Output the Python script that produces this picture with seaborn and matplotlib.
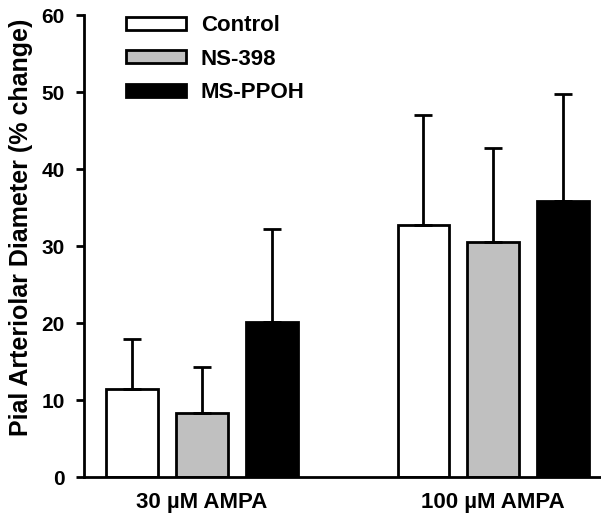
import matplotlib
matplotlib.use("Agg")
import matplotlib.pyplot as plt
import seaborn as sns
import pandas as pd

doses = ["30 \u00b5M AMPA", "100 \u00b5M AMPA"]
treatments = ["Control", "NS-398", "MS-PPOH"]
control_mean = [11.4, 32.7]
ns398_mean = [8.3, 30.6]
msppoh_mean = [20.2, 35.8]
control_sem = [6.6, 14.3]
ns398_sem = [6.0, 12.2]
msppoh_sem = [12.0, 14.0]

colors = ["#ffffff", "#c0c0c0", "#000000"]

rows = []
for t, means, sems in zip(treatments, [control_mean, ns398_mean, msppoh_mean],
                          [control_sem, ns398_sem, msppoh_sem]):
    for d, m, s in zip(doses, means, sems):
        rows.append({"dose": d, "treatment": t, "value": m, "sem": s})
df = pd.DataFrame(rows)

sns.set_style("ticks", {"axes.edgecolor": "black", "text.color": "black",
                        "axes.labelcolor": "black", "xtick.color": "black",
                        "ytick.color": "black"})
plt.rcParams["font.family"] = ["Liberation Sans", "DejaVu Sans"]
plt.rcParams["font.weight"] = "bold"

fig = plt.figure(figsize=(6.01, 5.22), dpi=100)
ax = fig.add_axes([0.14, 0.086, 0.86, 0.885])

sns.barplot(data=df, x="dose", y="value", hue="treatment", order=doses,
            hue_order=treatments, palette=colors, errorbar=None,
            width=0.72, gap=0.26, edgecolor="black", linewidth=2,
            saturation=1, ax=ax)

# upper-only error bars on each bar
for cont, t in zip(ax.containers, treatments):
    sub = df[df["treatment"] == t].set_index("dose").loc[doses]
    xs = [p.get_x() + p.get_width() / 2 for p in cont.patches]
    ax.errorbar(xs, sub["value"], yerr=[[0] * len(xs), sub["sem"]],
                fmt="none", ecolor="black", elinewidth=2, capsize=6.5,
                capthick=2, zorder=1)

ax.set_ylim(0, 60)
ax.set_xlim(-0.405, 1.37)
ax.set_yticks(range(0, 61, 10))
ax.set_xlabel("")
ax.set_ylabel("Pial Arteriolar Diameter (% change)", fontsize=18,
              fontweight="bold", labelpad=6)
ax.yaxis.label.set_y(0.54)
ax.tick_params(axis="y", direction="out", length=6, width=2, pad=8,
               labelsize=15)
ax.tick_params(axis="x", length=0, pad=11, labelsize=16)
for lab in ax.get_xticklabels() + ax.get_yticklabels():
    lab.set_fontweight("bold")
sns.despine(ax=ax)
ax.spines["left"].set_linewidth(2)
ax.spines["bottom"].set_linewidth(2)

leg = ax.legend(loc="upper left", bbox_to_anchor=(0.042, 1.043), frameon=False,
                fontsize=16, handlelength=2.7, handleheight=0.5,
                labelspacing=0.56, handletextpad=0.68)
for txt in leg.get_texts():
    txt.set_fontweight("bold")

fig.savefig("out.png", dpi=100)
